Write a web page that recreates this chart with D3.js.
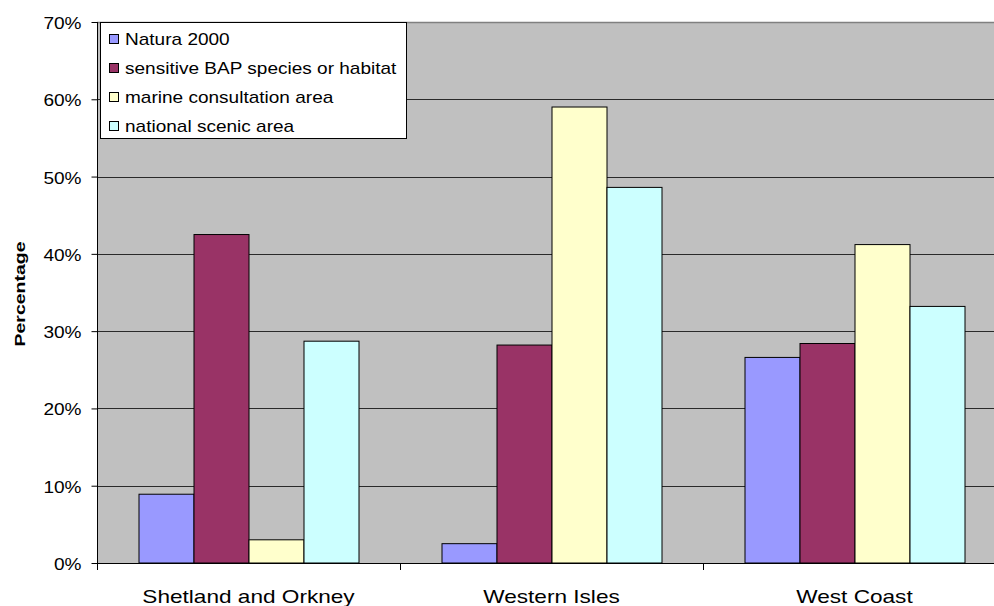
<!DOCTYPE html>
<html>
<head>
<meta charset="utf-8">
<script src="https://cdn.jsdelivr.net/npm/d3@7"></script>
<style>
  html, body { margin: 0; padding: 0; background: #fff; }
  svg { display: block; font-family: Arial, "Liberation Sans", sans-serif; }
</style>
</head>
<body>
<svg id="chart" width="994" height="606"></svg>
<script>
// Share of sites by designation, per region
const categories = ["Shetland and Orkney", "Western Isles", "West Coast"];
const seriesNames = ["Natura 2000", "sensitive BAP species or habitat", "marine consultation area", "national scenic area"];
const natura = [8.9, 2.5, 26.6];
const bap = [42.5, 28.2, 28.4];
const marine = [3.0, 59.0, 41.2];
const scenic = [28.7, 48.6, 33.2];
const seriesColors = ["#9999ff", "#993366", "#ffffcc", "#ccffff"];
const yTicks = [0, 10, 20, 30, 40, 50, 60, 70];

const seriesValues = [natura, bap, marine, scenic];
const SX = 1.19; // horizontal widening of the label glyphs

const svg = d3.select("#chart");
const plot = { left: 97, right: 1006, top: 22, bottom: 563 };

const y = d3.scaleLinear().domain([0, 70]).range([plot.bottom, plot.top]);
const x0 = d3.scaleBand().domain(categories).range([plot.left, plot.right]).padding(0);
const groupPad = 41.5;
const x1 = d3.scaleBand().domain(seriesNames)
  .range([groupPad, x0.bandwidth() - groupPad]).padding(0);

// plot background
svg.append("rect")
  .attr("x", plot.left).attr("y", plot.top)
  .attr("width", plot.right - plot.left).attr("height", plot.bottom - plot.top)
  .attr("fill", "#c0c0c0");

// horizontal gridlines
svg.append("g").selectAll("line")
  .data(yTicks.filter(d => d > 0))
  .join("line")
  .attr("x1", plot.left).attr("x2", plot.right)
  .attr("y1", d => Math.round(y(d)) + 0.5).attr("y2", d => Math.round(y(d)) + 0.5)
  .attr("stroke", d => d === 70 ? "#808080" : "#2a2a2a")
  .attr("stroke-width", d => d === 70 ? 1.5 : 1);

// bars
const groups = svg.append("g").selectAll("g")
  .data(categories)
  .join("g")
  .attr("transform", c => `translate(${x0(c)},0)`);

groups.selectAll("rect")
  .data((c, ci) => seriesNames.map((s, si) => ({ s, si, v: seriesValues[si][ci] })))
  .join("rect")
  .attr("x", d => x1(d.s) + 0.5)
  .attr("y", d => y(d.v))
  .attr("width", x1.bandwidth())
  .attr("height", d => y(0) - y(d.v))
  .attr("fill", d => seriesColors[d.si])
  .attr("stroke", "#000")
  .attr("stroke-width", 1);

// y axis
const yAxis = d3.axisLeft(y).tickValues(yTicks).tickSize(6).tickFormat(d => d + "%");
const gy = svg.append("g")
  .attr("transform", `translate(${plot.left + 0.5},0)`)
  .call(yAxis);
gy.select(".domain").attr("stroke", "#000").attr("d", `M0,${plot.top}V${plot.bottom}`);
gy.selectAll(".tick line").attr("stroke", "#000");
gy.selectAll(".tick text")
  .attr("font-size", 16).attr("fill", "#000")
  .attr("font-family", "Arial, 'Liberation Sans', sans-serif")
  .attr("x", 0).attr("dy", null).attr("y", 0)
  .attr("text-anchor", "end")
  .attr("transform", `translate(-16,6.5) scale(${SX},1)`);

// x axis
const xAxis = d3.axisBottom(x0).tickSize(0).tickSizeOuter(0).tickFormat("");
const gx = svg.append("g")
  .attr("transform", `translate(0,${plot.bottom + 0.5})`)
  .call(xAxis);
gx.select(".domain").attr("stroke", "#000").attr("d", `M${plot.left},0H${plot.right}`);
gx.selectAll(".tick").remove();

// category separator ticks
svg.append("g").selectAll("line")
  .data(d3.range(categories.length + 1))
  .join("line")
  .attr("x1", i => plot.left + i * x0.bandwidth() + 0.5)
  .attr("x2", i => plot.left + i * x0.bandwidth() + 0.5)
  .attr("y1", plot.bottom).attr("y2", plot.bottom + 7)
  .attr("stroke", "#000");

// category labels
svg.append("g").selectAll("text")
  .data(categories)
  .join("text")
  .attr("transform", c => `translate(${x0(c) + x0.bandwidth() / 2},603) scale(${SX},1)`)
  .attr("text-anchor", "middle")
  .attr("font-size", 19)
  .attr("fill", "#000")
  .text(c => c);

// y axis title
svg.append("text")
  .attr("transform", "translate(25,294) rotate(-90) scale(1.3,1)")
  .attr("text-anchor", "middle")
  .attr("font-size", 15)
  .attr("font-weight", "bold")
  .attr("fill", "#000")
  .text("Percentage");

// legend
const legend = svg.append("g");
legend.append("rect")
  .attr("x", 100.5).attr("y", 22.5)
  .attr("width", 306).attr("height", 116)
  .attr("fill", "#fff").attr("stroke", "#000");

const items = legend.selectAll("g")
  .data(seriesNames)
  .join("g")
  .attr("transform", (d, i) => `translate(0,${34 + i * 29})`);
items.append("rect")
  .attr("x", 109.5).attr("y", 0.5)
  .attr("width", 9).attr("height", 9)
  .attr("fill", (d, i) => seriesColors[i])
  .attr("stroke", "#000");
items.append("text")
  .attr("transform", "translate(125,11) scale(1.12,1)")
  .attr("font-size", 17)
  .attr("fill", "#000")
  .text(d => d);
</script>
</body>
</html>
